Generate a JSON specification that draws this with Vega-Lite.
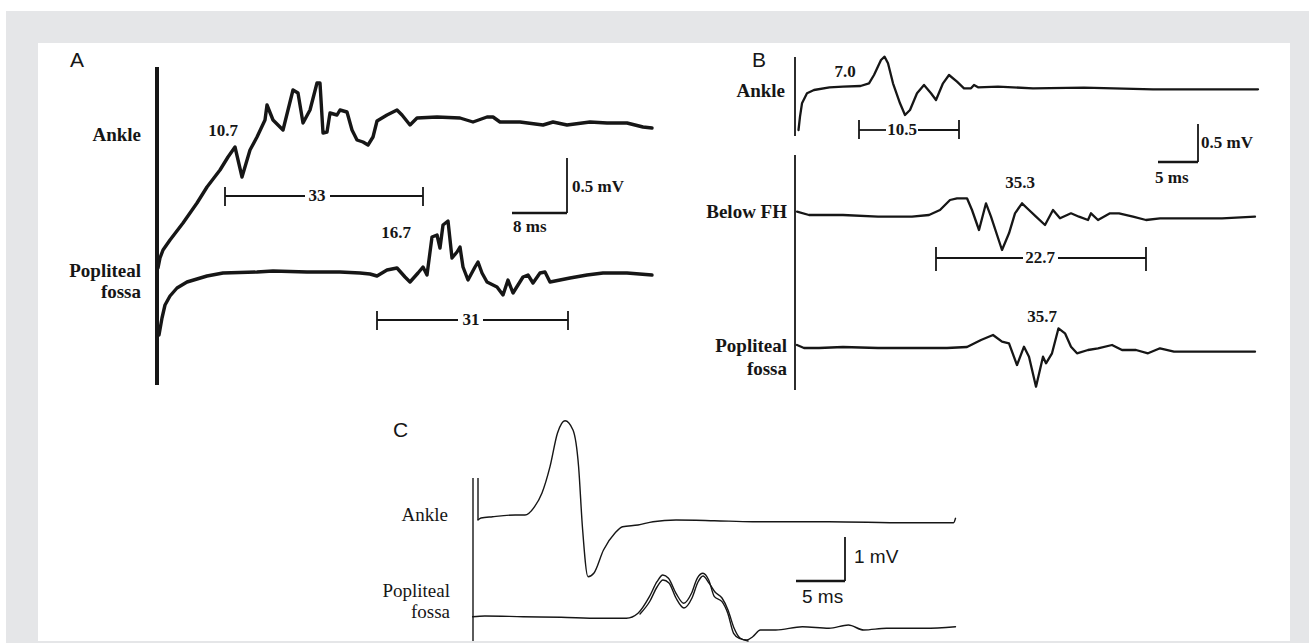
{
"$schema":"https://vega.github.io/schema/vega-lite/v6.json",
"width":1309,"height":643,"padding":0,
"autosize":{"type":"fit","contains":"padding"},
"background":"white",
"config":{"view":{"stroke":null}},
"datasets":{
"frame":[{"x":6,"x2":1309,"y":11,"y2":643}],
"sheet":[{"x":38,"x2":1290,"y":43,"y2":641}],
"stim":[
{"panel":"A","x":157,"y":67,"y2":385},
{"panel":"B","x":795,"y":57,"y2":136},
{"panel":"B","x":795,"y":155,"y2":390},
{"panel":"C","x":473,"y":478,"y2":641},
{"panel":"C","x":478,"y":478,"y2":520}
],
"hbar":[
{"role":"interval","x":225,"x2":305,"y":196},{"role":"interval","x":330,"x2":423,"y":196},
{"role":"interval","x":377,"x2":458,"y":320},{"role":"interval","x":483,"x2":568,"y":320},
{"role":"interval","x":859,"x2":886,"y":130},{"role":"interval","x":918,"x2":959,"y":130},
{"role":"interval","x":936,"x2":1023,"y":258},{"role":"interval","x":1058,"x2":1146,"y":258},
{"role":"scale","x":512,"x2":567,"y":213},{"role":"scale","x":1158,"x2":1198,"y":162},{"role":"scale","x":796,"x2":845,"y":581}
],
"vbar":[
{"role":"interval","x":225,"y":187,"y2":206},{"role":"interval","x":423,"y":187,"y2":206},
{"role":"interval","x":377,"y":311,"y2":330},{"role":"interval","x":568,"y":311,"y2":330},
{"role":"interval","x":859,"y":120,"y2":139},{"role":"interval","x":959,"y":120,"y2":139},
{"role":"interval","x":936,"y":247,"y2":271},{"role":"interval","x":1146,"y":247,"y2":271},
{"role":"scale","x":567,"y":158,"y2":213},{"role":"scale","x":1198,"y":124,"y2":162},{"role":"scale","x":845,"y":537,"y2":581}
],
"labels":[
{"style":"site","text":"Ankle","x":141,"y":135},
{"style":"site","text":"Popliteal","x":141,"y":271},
{"style":"site","text":"fossa","x":141,"y":292},
{"style":"site","text":"Ankle","x":785,"y":91},
{"style":"site","text":"Below FH","x":787,"y":212},
{"style":"site","text":"Popliteal","x":787,"y":346},
{"style":"site","text":"fossa","x":787,"y":369},
{"style":"siteC","text":"Ankle","x":448,"y":515},
{"style":"siteC","text":"Popliteal","x":450,"y":591},
{"style":"siteC","text":"fossa","x":450,"y":612},
{"style":"value","text":"10.7","x":223,"y":131},
{"style":"value","text":"33","x":317,"y":196},
{"style":"value","text":"16.7","x":396,"y":233},
{"style":"value","text":"31","x":471,"y":320},
{"style":"value","text":"7.0","x":845,"y":72},
{"style":"value","text":"10.5","x":902,"y":130},
{"style":"value","text":"35.3","x":1020,"y":183},
{"style":"value","text":"22.7","x":1040,"y":258},
{"style":"value","text":"35.7","x":1042,"y":317},
{"style":"unit","text":"0.5 mV","x":572,"y":187},
{"style":"unit","text":"8 ms","x":513,"y":227},
{"style":"unit","text":"0.5 mV","x":1201,"y":143},
{"style":"unit","text":"5 ms","x":1155,"y":178},
{"style":"letter","text":"A","x":70,"y":61},
{"style":"letter","text":"B","x":752,"y":61},
{"style":"letter","text":"C","x":393,"y":431},
{"style":"unitC","text":"1 mV","x":854,"y":557},
{"style":"unitC","text":"5 ms","x":802,"y":597}
],
"traces":[
{"panel":"A","trace":"A_ankle","x":158,"y":268},{"panel":"A","trace":"A_ankle","x":160,"y":258},{"panel":"A","trace":"A_ankle","x":163,"y":250},{"panel":"A","trace":"A_ankle","x":170,"y":240},{"panel":"A","trace":"A_ankle","x":183,"y":223},{"panel":"A","trace":"A_ankle","x":197,"y":203},{"panel":"A","trace":"A_ankle","x":207,"y":187},{"panel":"A","trace":"A_ankle","x":220,"y":170},{"panel":"A","trace":"A_ankle","x":228,"y":157},{"panel":"A","trace":"A_ankle","x":235,"y":147},{"panel":"A","trace":"A_ankle","x":242,"y":177},{"panel":"A","trace":"A_ankle","x":250,"y":150},{"panel":"A","trace":"A_ankle","x":257,"y":137},{"panel":"A","trace":"A_ankle","x":265,"y":120},{"panel":"A","trace":"A_ankle","x":267,"y":105},{"panel":"A","trace":"A_ankle","x":273,"y":120},{"panel":"A","trace":"A_ankle","x":283,"y":130},{"panel":"A","trace":"A_ankle","x":288,"y":110},{"panel":"A","trace":"A_ankle","x":293,"y":90},{"panel":"A","trace":"A_ankle","x":298,"y":93},{"panel":"A","trace":"A_ankle","x":303,"y":123},{"panel":"A","trace":"A_ankle","x":310,"y":110},{"panel":"A","trace":"A_ankle","x":317,"y":83},{"panel":"A","trace":"A_ankle","x":320,"y":83},{"panel":"A","trace":"A_ankle","x":323,"y":133},{"panel":"A","trace":"A_ankle","x":327,"y":132},{"panel":"A","trace":"A_ankle","x":330,"y":113},{"panel":"A","trace":"A_ankle","x":337,"y":115},{"panel":"A","trace":"A_ankle","x":340,"y":110},{"panel":"A","trace":"A_ankle","x":347,"y":112},{"panel":"A","trace":"A_ankle","x":352,"y":130},{"panel":"A","trace":"A_ankle","x":357,"y":140},{"panel":"A","trace":"A_ankle","x":363,"y":142},{"panel":"A","trace":"A_ankle","x":368,"y":145},{"panel":"A","trace":"A_ankle","x":373,"y":137},{"panel":"A","trace":"A_ankle","x":377,"y":121},{"panel":"A","trace":"A_ankle","x":387,"y":115},{"panel":"A","trace":"A_ankle","x":397,"y":110},{"panel":"A","trace":"A_ankle","x":402,"y":115},{"panel":"A","trace":"A_ankle","x":410,"y":125},{"panel":"A","trace":"A_ankle","x":417,"y":118},{"panel":"A","trace":"A_ankle","x":437,"y":117},{"panel":"A","trace":"A_ankle","x":460,"y":118},{"panel":"A","trace":"A_ankle","x":473,"y":122},{"panel":"A","trace":"A_ankle","x":487,"y":117},{"panel":"A","trace":"A_ankle","x":493,"y":117},{"panel":"A","trace":"A_ankle","x":500,"y":122},{"panel":"A","trace":"A_ankle","x":520,"y":122},{"panel":"A","trace":"A_ankle","x":543,"y":125},{"panel":"A","trace":"A_ankle","x":553,"y":122},{"panel":"A","trace":"A_ankle","x":567,"y":125},{"panel":"A","trace":"A_ankle","x":590,"y":122},{"panel":"A","trace":"A_ankle","x":607,"y":123},{"panel":"A","trace":"A_ankle","x":627,"y":123},{"panel":"A","trace":"A_ankle","x":643,"y":127},{"panel":"A","trace":"A_ankle","x":652,"y":128},
{"panel":"A","trace":"A_pop","x":159,"y":335},{"panel":"A","trace":"A_pop","x":162,"y":318},{"panel":"A","trace":"A_pop","x":165,"y":305},{"panel":"A","trace":"A_pop","x":170,"y":296},{"panel":"A","trace":"A_pop","x":177,"y":288},{"panel":"A","trace":"A_pop","x":187,"y":282},{"panel":"A","trace":"A_pop","x":197,"y":279},{"panel":"A","trace":"A_pop","x":207,"y":276},{"panel":"A","trace":"A_pop","x":223,"y":273},{"panel":"A","trace":"A_pop","x":257,"y":272},{"panel":"A","trace":"A_pop","x":273,"y":271},{"panel":"A","trace":"A_pop","x":307,"y":272},{"panel":"A","trace":"A_pop","x":340,"y":272},{"panel":"A","trace":"A_pop","x":360,"y":273},{"panel":"A","trace":"A_pop","x":370,"y":274},{"panel":"A","trace":"A_pop","x":377,"y":276},{"panel":"A","trace":"A_pop","x":387,"y":270},{"panel":"A","trace":"A_pop","x":397,"y":268},{"panel":"A","trace":"A_pop","x":405,"y":277},{"panel":"A","trace":"A_pop","x":410,"y":282},{"panel":"A","trace":"A_pop","x":418,"y":273},{"panel":"A","trace":"A_pop","x":423,"y":267},{"panel":"A","trace":"A_pop","x":427,"y":275},{"panel":"A","trace":"A_pop","x":432,"y":237},{"panel":"A","trace":"A_pop","x":437,"y":235},{"panel":"A","trace":"A_pop","x":440,"y":248},{"panel":"A","trace":"A_pop","x":443,"y":225},{"panel":"A","trace":"A_pop","x":448,"y":221},{"panel":"A","trace":"A_pop","x":452,"y":258},{"panel":"A","trace":"A_pop","x":457,"y":252},{"panel":"A","trace":"A_pop","x":460,"y":247},{"panel":"A","trace":"A_pop","x":463,"y":267},{"panel":"A","trace":"A_pop","x":468,"y":280},{"panel":"A","trace":"A_pop","x":475,"y":267},{"panel":"A","trace":"A_pop","x":478,"y":262},{"panel":"A","trace":"A_pop","x":482,"y":273},{"panel":"A","trace":"A_pop","x":487,"y":282},{"panel":"A","trace":"A_pop","x":497,"y":287},{"panel":"A","trace":"A_pop","x":503,"y":295},{"panel":"A","trace":"A_pop","x":508,"y":280},{"panel":"A","trace":"A_pop","x":513,"y":293},{"panel":"A","trace":"A_pop","x":518,"y":285},{"panel":"A","trace":"A_pop","x":523,"y":277},{"panel":"A","trace":"A_pop","x":528,"y":275},{"panel":"A","trace":"A_pop","x":533,"y":283},{"panel":"A","trace":"A_pop","x":540,"y":273},{"panel":"A","trace":"A_pop","x":545,"y":272},{"panel":"A","trace":"A_pop","x":550,"y":282},{"panel":"A","trace":"A_pop","x":560,"y":280},{"panel":"A","trace":"A_pop","x":570,"y":278},{"panel":"A","trace":"A_pop","x":587,"y":275},{"panel":"A","trace":"A_pop","x":603,"y":273},{"panel":"A","trace":"A_pop","x":627,"y":273},{"panel":"A","trace":"A_pop","x":652,"y":275},
{"panel":"B","trace":"B_ankle","x":798.5,"y":130},{"panel":"B","trace":"B_ankle","x":800,"y":116.7},{"panel":"B","trace":"B_ankle","x":802,"y":103.3},{"panel":"B","trace":"B_ankle","x":807,"y":93.3},{"panel":"B","trace":"B_ankle","x":814,"y":90},{"panel":"B","trace":"B_ankle","x":829.5,"y":87.3},{"panel":"B","trace":"B_ankle","x":843,"y":86.7},{"panel":"B","trace":"B_ankle","x":860.5,"y":86},{"panel":"B","trace":"B_ankle","x":869,"y":83.3},{"panel":"B","trace":"B_ankle","x":874,"y":75},{"panel":"B","trace":"B_ankle","x":881,"y":60},{"panel":"B","trace":"B_ankle","x":884.6,"y":56.7},{"panel":"B","trace":"B_ankle","x":888,"y":63.3},{"panel":"B","trace":"B_ankle","x":893,"y":83.3},{"panel":"B","trace":"B_ankle","x":900,"y":103.3},{"panel":"B","trace":"B_ankle","x":905,"y":115},{"panel":"B","trace":"B_ankle","x":910,"y":110},{"panel":"B","trace":"B_ankle","x":917,"y":93.3},{"panel":"B","trace":"B_ankle","x":924,"y":85},{"panel":"B","trace":"B_ankle","x":931,"y":93.3},{"panel":"B","trace":"B_ankle","x":936,"y":100},{"panel":"B","trace":"B_ankle","x":943,"y":83.3},{"panel":"B","trace":"B_ankle","x":949,"y":75},{"panel":"B","trace":"B_ankle","x":957,"y":81.7},{"panel":"B","trace":"B_ankle","x":964,"y":88.3},{"panel":"B","trace":"B_ankle","x":971,"y":88.3},{"panel":"B","trace":"B_ankle","x":974,"y":85},{"panel":"B","trace":"B_ankle","x":978,"y":87.3},{"panel":"B","trace":"B_ankle","x":998,"y":86.7},{"panel":"B","trace":"B_ankle","x":1033,"y":88.3},{"panel":"B","trace":"B_ankle","x":1084,"y":87.7},{"panel":"B","trace":"B_ankle","x":1153,"y":89.3},{"panel":"B","trace":"B_ankle","x":1222,"y":89.3},{"panel":"B","trace":"B_ankle","x":1258,"y":89.3},
{"panel":"B","trace":"B_fh","x":797,"y":211.7},{"panel":"B","trace":"B_fh","x":809,"y":215},{"panel":"B","trace":"B_fh","x":843,"y":215},{"panel":"B","trace":"B_fh","x":878,"y":216.7},{"panel":"B","trace":"B_fh","x":912,"y":216.7},{"panel":"B","trace":"B_fh","x":929,"y":215},{"panel":"B","trace":"B_fh","x":940,"y":210},{"panel":"B","trace":"B_fh","x":950,"y":200},{"panel":"B","trace":"B_fh","x":957,"y":198.3},{"panel":"B","trace":"B_fh","x":967,"y":198.3},{"panel":"B","trace":"B_fh","x":972,"y":210},{"panel":"B","trace":"B_fh","x":979,"y":230},{"panel":"B","trace":"B_fh","x":986,"y":203.3},{"panel":"B","trace":"B_fh","x":991,"y":216.7},{"panel":"B","trace":"B_fh","x":1002,"y":250},{"panel":"B","trace":"B_fh","x":1009,"y":233.3},{"panel":"B","trace":"B_fh","x":1015,"y":213.3},{"panel":"B","trace":"B_fh","x":1022,"y":203.3},{"panel":"B","trace":"B_fh","x":1029,"y":210},{"panel":"B","trace":"B_fh","x":1036,"y":216.7},{"panel":"B","trace":"B_fh","x":1045,"y":225},{"panel":"B","trace":"B_fh","x":1053,"y":210},{"panel":"B","trace":"B_fh","x":1060,"y":218.3},{"panel":"B","trace":"B_fh","x":1071,"y":213.3},{"panel":"B","trace":"B_fh","x":1079,"y":216.7},{"panel":"B","trace":"B_fh","x":1088,"y":220},{"panel":"B","trace":"B_fh","x":1091,"y":213.3},{"panel":"B","trace":"B_fh","x":1098,"y":220},{"panel":"B","trace":"B_fh","x":1110,"y":213.3},{"panel":"B","trace":"B_fh","x":1119,"y":213.3},{"panel":"B","trace":"B_fh","x":1133,"y":216.7},{"panel":"B","trace":"B_fh","x":1146,"y":220},{"panel":"B","trace":"B_fh","x":1160,"y":218.3},{"panel":"B","trace":"B_fh","x":1188,"y":218.3},{"panel":"B","trace":"B_fh","x":1222,"y":218.3},{"panel":"B","trace":"B_fh","x":1255,"y":216.7},
{"panel":"B","trace":"B_pop","x":797,"y":345},{"panel":"B","trace":"B_pop","x":804,"y":348},{"panel":"B","trace":"B_pop","x":819,"y":348},{"panel":"B","trace":"B_pop","x":843,"y":347},{"panel":"B","trace":"B_pop","x":878,"y":348},{"panel":"B","trace":"B_pop","x":912,"y":348},{"panel":"B","trace":"B_pop","x":947,"y":348},{"panel":"B","trace":"B_pop","x":967,"y":347},{"panel":"B","trace":"B_pop","x":981,"y":340},{"panel":"B","trace":"B_pop","x":993,"y":335},{"panel":"B","trace":"B_pop","x":1002,"y":341.7},{"panel":"B","trace":"B_pop","x":1009,"y":343.3},{"panel":"B","trace":"B_pop","x":1017,"y":365},{"panel":"B","trace":"B_pop","x":1024,"y":346.7},{"panel":"B","trace":"B_pop","x":1029,"y":356.7},{"panel":"B","trace":"B_pop","x":1036,"y":386.7},{"panel":"B","trace":"B_pop","x":1043,"y":356.7},{"panel":"B","trace":"B_pop","x":1046,"y":363.3},{"panel":"B","trace":"B_pop","x":1052,"y":353.3},{"panel":"B","trace":"B_pop","x":1058.5,"y":328.3},{"panel":"B","trace":"B_pop","x":1065,"y":333.3},{"panel":"B","trace":"B_pop","x":1071,"y":346.7},{"panel":"B","trace":"B_pop","x":1077,"y":353.3},{"panel":"B","trace":"B_pop","x":1088,"y":350},{"panel":"B","trace":"B_pop","x":1098,"y":348.3},{"panel":"B","trace":"B_pop","x":1112,"y":345},{"panel":"B","trace":"B_pop","x":1122,"y":350},{"panel":"B","trace":"B_pop","x":1136,"y":350},{"panel":"B","trace":"B_pop","x":1148,"y":353.3},{"panel":"B","trace":"B_pop","x":1160,"y":348.3},{"panel":"B","trace":"B_pop","x":1174,"y":351.7},{"panel":"B","trace":"B_pop","x":1188,"y":351.7},{"panel":"B","trace":"B_pop","x":1222,"y":351.7},{"panel":"B","trace":"B_pop","x":1255,"y":351.7},
{"panel":"C","trace":"C_ankle","x":478,"y":520},{"panel":"C","trace":"C_ankle","x":481,"y":518},{"panel":"C","trace":"C_ankle","x":492.5,"y":516.7},{"panel":"C","trace":"C_ankle","x":515.4,"y":515},{"panel":"C","trace":"C_ankle","x":525,"y":515},{"panel":"C","trace":"C_ankle","x":534.6,"y":506.7},{"panel":"C","trace":"C_ankle","x":542,"y":493},{"panel":"C","trace":"C_ankle","x":550,"y":466.7},{"panel":"C","trace":"C_ankle","x":557.5,"y":433},{"panel":"C","trace":"C_ankle","x":565,"y":420.7},{"panel":"C","trace":"C_ankle","x":573,"y":430},{"panel":"C","trace":"C_ankle","x":578.6,"y":466.7},{"panel":"C","trace":"C_ankle","x":582.4,"y":526.7},{"panel":"C","trace":"C_ankle","x":588,"y":576.7},{"panel":"C","trace":"C_ankle","x":594,"y":573},{"panel":"C","trace":"C_ankle","x":603.5,"y":550},{"panel":"C","trace":"C_ankle","x":615,"y":533},{"panel":"C","trace":"C_ankle","x":622.6,"y":526.7},{"panel":"C","trace":"C_ankle","x":638,"y":525},{"panel":"C","trace":"C_ankle","x":653,"y":521.7},{"panel":"C","trace":"C_ankle","x":676,"y":520},{"panel":"C","trace":"C_ankle","x":714.4,"y":520.7},{"panel":"C","trace":"C_ankle","x":752.7,"y":521.7},{"panel":"C","trace":"C_ankle","x":829,"y":521.7},{"panel":"C","trace":"C_ankle","x":906,"y":522.7},{"panel":"C","trace":"C_ankle","x":953.6,"y":522.7},{"panel":"C","trace":"C_ankle","x":955.5,"y":518.3},
{"panel":"C","trace":"C_pop","x":472.6,"y":616.7},{"panel":"C","trace":"C_pop","x":484.8,"y":616},{"panel":"C","trace":"C_pop","x":523,"y":616.7},{"panel":"C","trace":"C_pop","x":561,"y":617.3},{"panel":"C","trace":"C_pop","x":599.6,"y":618.3},{"panel":"C","trace":"C_pop","x":626.4,"y":618.3},{"panel":"C","trace":"C_pop","x":638,"y":613.3},{"panel":"C","trace":"C_pop","x":649.4,"y":596.7},{"panel":"C","trace":"C_pop","x":657,"y":581.7},{"panel":"C","trace":"C_pop","x":662.8,"y":575},{"panel":"C","trace":"C_pop","x":668.5,"y":578.3},{"panel":"C","trace":"C_pop","x":676,"y":593.3},{"panel":"C","trace":"C_pop","x":683.8,"y":603.3},{"panel":"C","trace":"C_pop","x":691.5,"y":593.3},{"panel":"C","trace":"C_pop","x":697.2,"y":578.3},{"panel":"C","trace":"C_pop","x":703,"y":573.3},{"panel":"C","trace":"C_pop","x":708.7,"y":580},{"panel":"C","trace":"C_pop","x":714.4,"y":596.7},{"panel":"C","trace":"C_pop","x":722,"y":601.7},{"panel":"C","trace":"C_pop","x":727.8,"y":613.3},{"panel":"C","trace":"C_pop","x":733.6,"y":633.3},{"panel":"C","trace":"C_pop","x":739.3,"y":638.3},{"panel":"C","trace":"C_pop","x":747,"y":640},{"panel":"C","trace":"C_pop","x":752.7,"y":636.7},{"panel":"C","trace":"C_pop","x":760.4,"y":630},{"panel":"C","trace":"C_pop","x":775.7,"y":630},{"panel":"C","trace":"C_pop","x":802.4,"y":626.7},{"panel":"C","trace":"C_pop","x":829,"y":628.3},{"panel":"C","trace":"C_pop","x":848.4,"y":625},{"panel":"C","trace":"C_pop","x":863.7,"y":630},{"panel":"C","trace":"C_pop","x":886.6,"y":628.3},{"panel":"C","trace":"C_pop","x":925,"y":628.3},{"panel":"C","trace":"C_pop","x":955.5,"y":626.7},
{"panel":"C","trace":"C_pop2","x":640,"y":614},{"panel":"C","trace":"C_pop2","x":650,"y":601},{"panel":"C","trace":"C_pop2","x":657,"y":587},{"panel":"C","trace":"C_pop2","x":663,"y":580},{"panel":"C","trace":"C_pop2","x":669,"y":583},{"panel":"C","trace":"C_pop2","x":676,"y":598},{"panel":"C","trace":"C_pop2","x":684,"y":608},{"panel":"C","trace":"C_pop2","x":692,"y":598},{"panel":"C","trace":"C_pop2","x":698,"y":582},{"panel":"C","trace":"C_pop2","x":703,"y":576},{"panel":"C","trace":"C_pop2","x":709,"y":583},{"panel":"C","trace":"C_pop2","x":715,"y":592},{"panel":"C","trace":"C_pop2","x":722,"y":598},{"panel":"C","trace":"C_pop2","x":728,"y":610},{"panel":"C","trace":"C_pop2","x":734,"y":628},{"panel":"C","trace":"C_pop2","x":740,"y":638},{"panel":"C","trace":"C_pop2","x":748,"y":641}
]
},
"encoding":{
"x":{"field":"x","type":"quantitative","scale":{"domain":[0,1309],"nice":false,"zero":false},"axis":null},
"y":{"field":"y","type":"quantitative","scale":{"domain":[0,643],"nice":false,"zero":false,"reverse":true},"axis":null}
},
"layer":[
{"data":{"name":"frame"},"mark":{"type":"rect","fill":"#e5e6e8"},"encoding":{"x2":{"field":"x2"},"y2":{"field":"y2"}}},
{"data":{"name":"sheet"},"mark":{"type":"rect","fill":"#ffffff"},"encoding":{"x2":{"field":"x2"},"y2":{"field":"y2"}}},
{"data":{"name":"stim"},"transform":[{"filter":"datum.panel==='A'"}],"mark":{"type":"rule","color":"#161616","strokeWidth":4},"encoding":{"y2":{"field":"y2"}}},
{"data":{"name":"stim"},"transform":[{"filter":"datum.panel==='B'"}],"mark":{"type":"rule","color":"#161616","strokeWidth":1.8},"encoding":{"y2":{"field":"y2"}}},
{"data":{"name":"stim"},"transform":[{"filter":"datum.panel==='C'"}],"mark":{"type":"rule","color":"#161616","strokeWidth":1.4},"encoding":{"y2":{"field":"y2"}}},
{"data":{"name":"traces"},"transform":[{"filter":"datum.panel==='A'"}],"mark":{"type":"line","color":"#161616","strokeWidth":3.4,"strokeJoin":"round","strokeCap":"round"},"encoding":{"detail":{"field":"trace"}}},
{"data":{"name":"traces"},"transform":[{"filter":"datum.panel==='B'"}],"mark":{"type":"line","color":"#161616","strokeWidth":2.3,"strokeJoin":"round","strokeCap":"round"},"encoding":{"detail":{"field":"trace"}}},
{"data":{"name":"traces"},"transform":[{"filter":"datum.panel==='C'"}],"mark":{"type":"line","color":"#161616","strokeWidth":1.4,"interpolate":"monotone","strokeJoin":"round","strokeCap":"round"},"encoding":{"detail":{"field":"trace"}}},
{"data":{"name":"hbar"},"transform":[{"filter":"datum.role==='interval'"}],"mark":{"type":"rule","color":"#161616","strokeWidth":1.8},"encoding":{"x2":{"field":"x2"}}},
{"data":{"name":"vbar"},"transform":[{"filter":"datum.role==='interval'"}],"mark":{"type":"rule","color":"#161616","strokeWidth":1.8},"encoding":{"y2":{"field":"y2"}}},
{"data":{"name":"hbar"},"transform":[{"filter":"datum.role==='scale'"}],"mark":{"type":"rule","color":"#161616","strokeWidth":2.6},"encoding":{"x2":{"field":"x2"}}},
{"data":{"name":"vbar"},"transform":[{"filter":"datum.role==='scale'"}],"mark":{"type":"rule","color":"#161616","strokeWidth":1.8},"encoding":{"y2":{"field":"y2"}}},
{"data":{"name":"labels"},"transform":[{"filter":"datum.style==='site'"}],"mark":{"type":"text","font":"Liberation Serif","fontSize":19,"fontWeight":"bold","align":"right","baseline":"middle","color":"#161616"},"encoding":{"text":{"field":"text"}}},
{"data":{"name":"labels"},"transform":[{"filter":"datum.style==='siteC'"}],"mark":{"type":"text","font":"Liberation Serif","fontSize":19,"align":"right","baseline":"middle","color":"#161616"},"encoding":{"text":{"field":"text"}}},
{"data":{"name":"labels"},"transform":[{"filter":"datum.style==='value'"}],"mark":{"type":"text","font":"Liberation Serif","fontSize":17,"fontWeight":"bold","align":"center","baseline":"middle","color":"#161616"},"encoding":{"text":{"field":"text"}}},
{"data":{"name":"labels"},"transform":[{"filter":"datum.style==='unit'"}],"mark":{"type":"text","font":"Liberation Serif","fontSize":17,"fontWeight":"bold","align":"left","baseline":"middle","color":"#161616"},"encoding":{"text":{"field":"text"}}},
{"data":{"name":"labels"},"transform":[{"filter":"datum.style==='letter'"}],"mark":{"type":"text","font":"Liberation Sans","fontSize":21,"align":"left","baseline":"middle","color":"#161616"},"encoding":{"text":{"field":"text"}}},
{"data":{"name":"labels"},"transform":[{"filter":"datum.style==='unitC'"}],"mark":{"type":"text","font":"Liberation Sans","fontSize":19,"align":"left","baseline":"middle","color":"#161616"},"encoding":{"text":{"field":"text"}}}
]
}
